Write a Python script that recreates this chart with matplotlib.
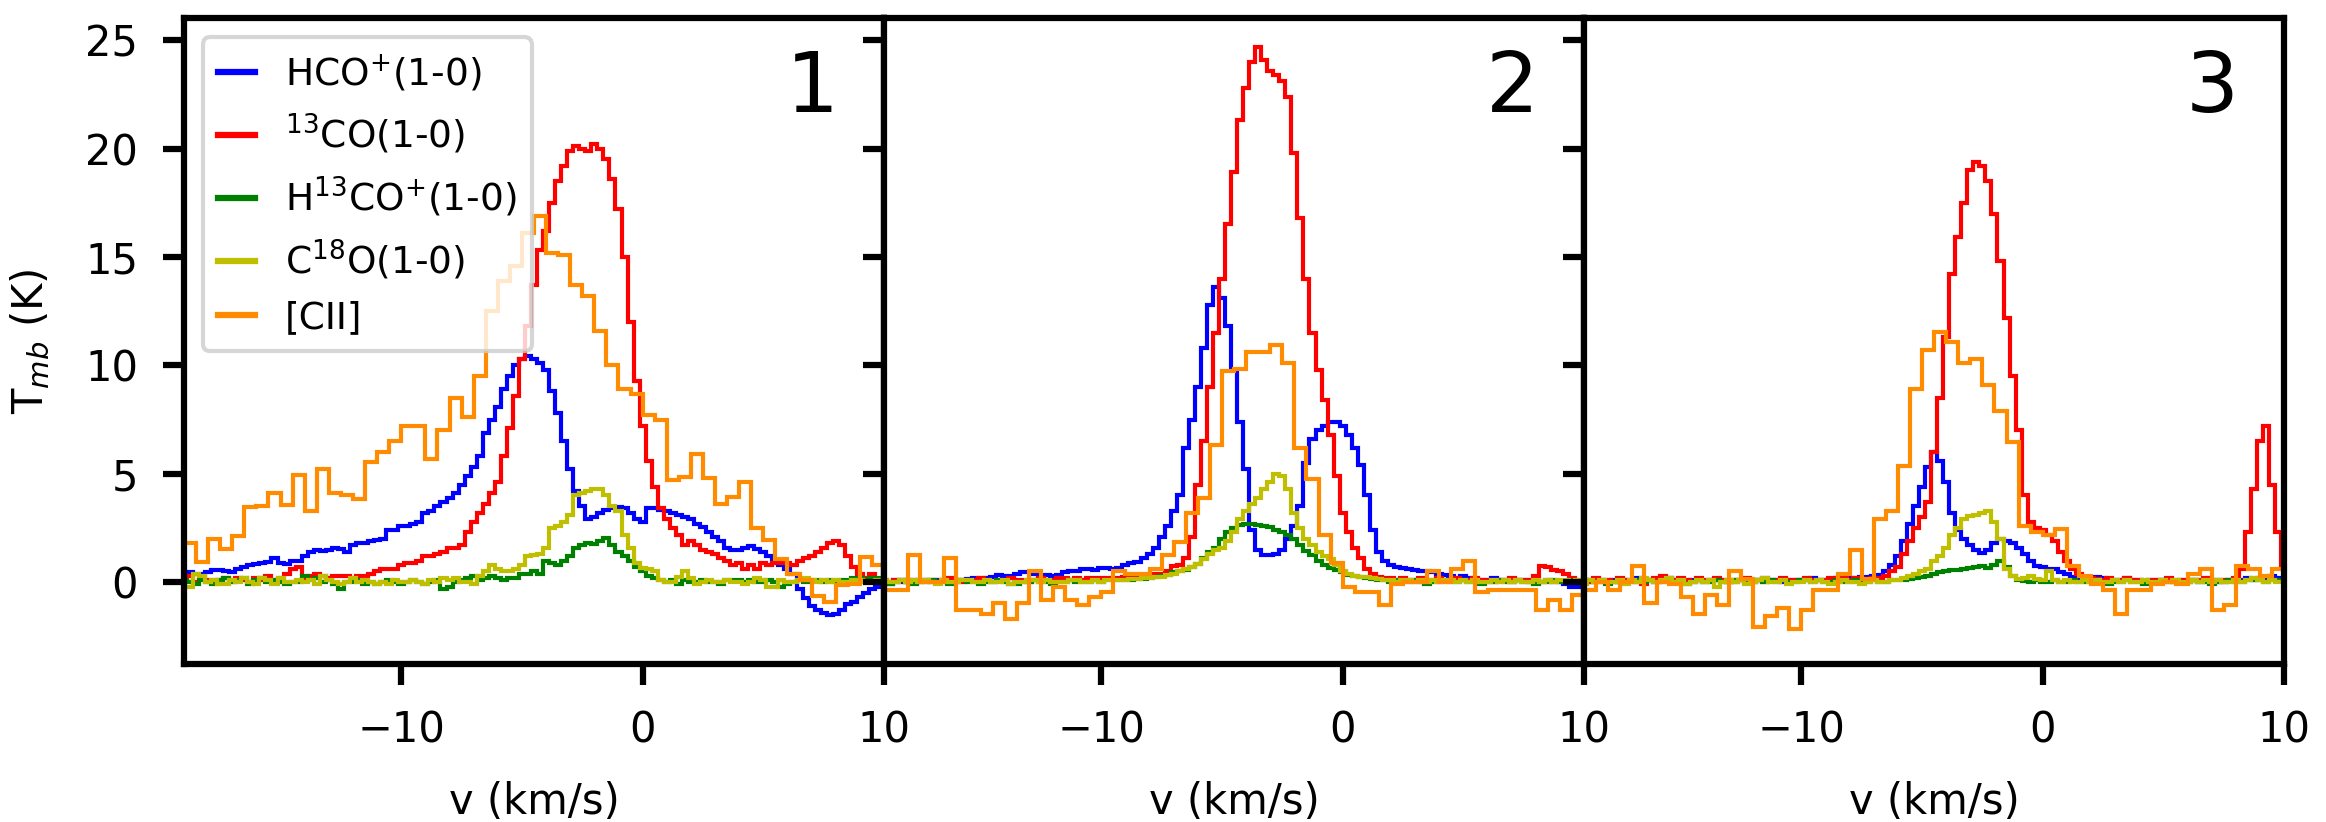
import numpy as np
import matplotlib
matplotlib.use("Agg")
from matplotlib import pyplot as plt


# Fine channels: centres from -19 to 10 km/s, 0.25 km/s apart (one row = 1 km/s)
FINE_START = -19.0
FINE_WIDTH = 0.25
# [CII] channels: centres from -18.75 to 9.75 km/s, 0.5 km/s apart
CII_START = -18.75
CII_WIDTH = 0.5

# Position 1
hco_1 = [
    0.4, 0.45, 0.4, 0.4,  0.45, 0.55, 0.55, 0.5,  0.45, 0.6, 0.7, 0.8,
    0.85, 0.9, 0.95, 1.1,  0.9, 0.85, 1.0, 1.0,  1.2, 1.4, 1.5, 1.45,
    1.5, 1.6, 1.55, 1.4,  1.7, 1.8, 1.8, 1.9,  1.95, 2.0, 2.4, 2.4,
    2.6, 2.6, 2.7, 2.8,  3.2, 3.3, 3.5, 3.7,  3.9, 4.1, 4.5, 4.9,
    5.3, 5.8, 6.9, 7.5,  8.1, 8.9, 9.5, 10.0,  10.3, 10.45, 10.3, 10.1,
    9.8, 8.8, 7.8, 6.5,  5.2, 4.2, 3.5, 2.9,  3.0, 3.2, 3.35, 3.4,
    3.45, 3.4, 3.2, 2.9,  2.8, 3.4, 3.4, 3.35,  3.3, 3.2, 3.1, 3.0,
    2.9, 2.7, 2.55, 2.3,  2.1, 1.9, 1.6, 1.5,  1.5, 1.6, 1.65, 1.55,
    1.4, 1.2, 1.0, 0.8,  0.6, 0.4, -0.3, -0.75,  -1.1, -1.3, -1.4, -1.5,
    -1.45, -1.3, -1.0, -0.9,  -0.7, -0.5, -0.3, -0.2,  -0.1]
co13_1 = [
    0.1, 0.3, 0.0, 0.2,  0.1, 0.0, 0.1, 0.2,  0.0, 0.2, 0.1, 0.0,
    0.2, 0.1, 0.3, 0.1,  0.2, 0.4, 0.6, 0.7,  0.1, 0.3, 0.4, 0.3,
    0.2, 0.3, 0.3, 0.3,  0.2, 0.3, 0.3, 0.4,  0.5, 0.6, 0.6, 0.6,
    0.8, 0.9, 0.9, 1.0,  1.2, 1.2, 1.3, 1.4,  1.6, 1.6, 1.7, 2.3,
    2.8, 3.2, 3.6, 4.1,  4.6, 5.8, 7.1, 8.6,  10.3, 11.8, 13.7, 15.3,
    16.2, 17.5, 18.5, 19.2,  19.9, 20.1, 20.0, 19.9,  20.2, 20.0, 19.5, 18.6,
    17.2, 15.0, 12.0, 9.3,  7.2, 5.6, 4.4, 3.4,  2.9, 2.5, 2.2, 1.7,
    1.9, 1.7, 1.5, 1.4,  1.3, 1.1, 1.0, 0.8,  0.9, 0.6, 0.8, 0.6,
    0.9, 0.8, 0.9, 0.9,  0.9, 0.8, 1.0, 1.1,  1.2, 1.4, 1.6, 1.8,
    1.9, 1.7, 1.2, 0.7,  0.4, 0.2, 0.4, 0.1,  0.1]
h13co_1 = [
    0.1, 0.0, -0.1, 0.1,  0.0, -0.1, 0.1, 0.2,  0.0, 0.1, 0.2, -0.1,
    0.1, 0.2, 0.0, 0.1,  0.0, -0.1, 0.0, 0.0,  0.3, 0.1, 0.2, 0.0,
    0.1, -0.1, -0.3, 0.0,  0.0, 0.1, -0.1, 0.0,  -0.1, 0.0, 0.1, 0.0,
    -0.1, 0.0, 0.1, 0.0,  -0.1, 0.0, 0.1, -0.3,  -0.2, 0.0, 0.1, 0.2,
    0.3, 0.1, 0.2, 0.3,  0.2, 0.1, 0.2, 0.2,  0.4, 0.4, 0.5, 0.4,
    1.0, 0.9, 0.8, 1.0,  1.2, 1.6, 1.7, 1.8,  1.75, 1.9, 2.05, 1.7,
    1.4, 1.2, 1.0, 0.7,  0.5, 0.3, 0.2, 0.1,  0.0, 0.1, -0.1, 0.1,
    0.0, 0.0, 0.1, 0.0,  0.0, -0.1, 0.1, 0.1,  0.1, 0.0, 0.1, 0.0,
    0.0, 0.1, 0.0, -0.2,  -0.1, 0.0, 0.1, 0.0,  0.1, 0.1, 0.0, 0.1,
    0.0, 0.1, 0.1, 0.2,  0.2, 0.1, 0.2, 0.2,  0.1]
c18o_1 = [
    -0.2, -0.2, 0.4, 0.3,  0.0, 0.1, -0.1, -0.1,  0.1, 0.0, 0.2, 0.0,
    -0.1, 0.2, 0.1, -0.1,  0.2, 0.0, 0.0, 0.1,  0.0, 0.1, -0.1, 0.3,
    0.1, 0.0, -0.1, 0.0,  0.2, 0.0, 0.1, 0.0,  -0.1, 0.0, -0.1, 0.1,
    0.0, 0.0, 0.1, 0.0,  -0.1, 0.1, 0.0, 0.2,  0.1, 0.2, 0.0, 0.0,
    -0.1, 0.3, 0.5, 0.8,  0.6, 0.5, 0.5, 0.6,  0.8, 1.2, 1.25, 1.3,
    1.6, 2.5, 2.6, 2.8,  3.1, 4.0, 4.1, 4.2,  4.3, 4.3, 4.0, 3.5,
    3.3, 2.2, 1.6, 0.9,  0.65, 0.6, 0.5, 0.1,  0.0, 0.0, 0.25, 0.5,
    0.2, -0.1, 0.0, 0.1,  0.0, 0.0, 0.1, 0.0,  0.0, -0.1, 0.0, 0.2,
    0.1, -0.2, -0.2, 0.1,  0.0, 0.0, 0.1, 0.2,  0.1, 0.0, 0.1, 0.0,
    0.1, 0.0, 0.0, 0.1,  0.1, 0.0, 0.0, 0.1,  0.0]
cii_1 = [
    1.8, 0.95,  2.0, 1.55,  2.15, 3.45,  3.5, 4.1,  3.55, 4.95,  3.3, 5.2,
    4.1, 4.0,  3.85, 5.55,  6.0, 6.5,  7.2, 7.2,  5.7, 7.0,  8.5, 7.6,
    9.5, 12.5,  13.9, 14.6,  16.1, 16.9,  15.2, 15.1,  13.7, 13.2,  11.6, 10.0,
    8.9, 8.7,  7.7, 7.5,  4.7, 4.85,  5.9, 4.8,  3.6, 3.95,  4.6, 2.5,
    1.95, 1.05,  0.4, 0.1,  -0.65, -0.9,  -0.15, -0.1,  1.15, 0.8]

# Position 2
hco_2 = [
    0.0, -0.1, 0.1, 0.0,  0.1, 0.0, 0.1, 0.1,  0.0, 0.1, 0.1, 0.1,
    0.1, 0.1, 0.15, 0.2,  0.15, 0.2, 0.25, 0.35,  0.3, 0.3, 0.4, 0.45,
    0.45, 0.4, 0.35, 0.35,  0.3, 0.35, 0.45, 0.5,  0.5, 0.6, 0.6, 0.55,
    0.65, 0.65, 0.6, 0.65,  0.8, 0.9, 0.95, 1.1,  1.3, 1.6, 2.1, 2.6,
    3.3, 4.0, 6.2, 7.5,  9.0, 10.8, 12.8, 13.6,  13.1, 11.8, 9.8, 7.4,
    5.2, 2.4, 1.5, 1.25,  1.25, 1.3, 1.5, 2.0,  2.6, 3.5, 5.5, 6.6,
    7.0, 7.2, 7.4, 7.4,  7.2, 6.8, 6.2, 5.4,  4.0, 2.4, 1.4, 1.0,
    0.8, 0.7, 0.65, 0.6,  0.55, 0.5, 0.5, 0.45,  0.4, 0.35, 0.3, 0.2,
    0.3, 0.2, 0.15, 0.1,  0.1, 0.2, 0.1, 0.1,  0.0, 0.1, 0.1, 0.0,
    0.1, 0.0, 0.1, 0.0,  0.0, -0.1, -0.2, -0.2,  -0.1]
co13_2 = [
    0.1, 0.0, 0.1, 0.1,  0.0, 0.1, 0.0, 0.1,  0.1, 0.0, 0.1, 0.2,
    0.1, 0.0, 0.1, 0.1,  0.2, 0.1, 0.0, 0.1,  0.1, 0.2, 0.1, 0.1,
    0.0, 0.1, 0.2, 0.1,  0.1, 0.2, 0.2, 0.1,  0.2, 0.1, 0.2, 0.2,
    0.2, 0.2, 0.2, 0.2,  0.25, 0.25, 0.25, 0.3,  0.3, 0.4, 0.4, 0.5,
    0.75, 0.8, 1.1, 2.1,  4.5, 6.5, 9.0, 11.5,  14.0, 16.5, 18.9, 21.3,
    22.8, 24.0, 24.7, 24.1,  23.6, 23.4, 23.1, 22.4,  19.8, 16.8, 14.0, 11.5,
    9.8, 8.4, 6.8, 4.9,  3.2, 2.3, 1.6, 1.1,  0.6, 0.4, 0.25, 0.2,
    0.2, 0.1, 0.2, 0.1,  0.1, 0.2, 0.1, 0.1,  0.2, 0.1, 0.1, 0.2,
    0.1, 0.1, 0.2, 0.1,  0.1, 0.0, 0.1, 0.1,  0.2, 0.1, 0.1, 0.1,
    0.3, 0.75, 0.7, 0.55,  0.5, 0.4, 0.2, 0.1,  0.1]
h13co_2 = [
    0.0, -0.1, 0.0, 0.1,  0.0, -0.1, 0.0, 0.0,  0.1, 0.0, 0.0, -0.1,
    0.0, 0.1, 0.0, 0.0,  -0.1, 0.0, 0.0, 0.1,  0.0, -0.1, -0.1, 0.0,
    0.0, 0.1, 0.0, 0.0,  -0.1, 0.0, 0.0, 0.1,  0.0, 0.0, 0.0, 0.1,
    0.0, 0.1, 0.1, 0.1,  0.1, 0.1, 0.15, 0.15,  0.2, 0.25, 0.3, 0.35,
    0.45, 0.5, 0.55, 0.7,  0.85, 1.1, 1.4, 1.6,  2.0, 2.3, 2.5, 2.65,
    2.7, 2.7, 2.65, 2.6,  2.55, 2.4, 2.3, 2.2,  2.0, 1.7, 1.45, 1.25,
    1.0, 0.8, 0.65, 0.55,  0.45, 0.35, 0.3, 0.25,  0.2, 0.15, 0.1, 0.1,
    0.0, 0.1, 0.0, 0.0,  0.1, 0.0, -0.1, 0.0,  0.0, 0.1, 0.0, 0.0,
    0.1, 0.0, 0.0, -0.1,  0.0, 0.0, 0.1, 0.0,  0.0, 0.1, 0.0, 0.0,
    -0.1, 0.0, 0.0, 0.1,  0.0, 0.0, 0.1, 0.0,  0.0]
c18o_2 = [
    0.1, 0.0, 0.0, 0.1,  0.0, 0.1, 0.0, 0.1,  0.0, -0.1, 0.1, 0.0,
    0.0, 0.1, 0.1, 0.0,  0.0, 0.1, 0.0, 0.0,  0.1, -0.1, 0.0, 0.0,
    0.1, 0.1, 0.0, 0.1,  0.0, 0.0, 0.0, 0.1,  0.1, 0.0, 0.0, 0.1,
    0.0, 0.1, 0.1, 0.1,  0.1, 0.15, 0.15, 0.2,  0.2, 0.25, 0.25, 0.35,
    0.4, 0.5, 0.6, 0.7,  0.85, 1.05, 1.3, 1.5,  1.6, 1.9, 2.3, 2.9,
    3.3, 3.6, 3.9, 4.3,  4.6, 5.0, 4.9, 4.3,  3.2, 2.5, 2.0, 1.7,
    1.4, 1.2, 1.05, 0.8,  0.5, 0.4, 0.3, 0.25,  0.25, 0.2, 0.15, 0.1,
    0.1, 0.0, 0.1, 0.1,  0.0, 0.1, 0.0, 0.1,  0.0, 0.1, 0.1, 0.0,
    0.1, 0.0, 0.1, 0.0,  0.0, 0.1, 0.0, 0.1,  0.0, 0.1, 0.0, 0.0,
    0.1, 0.0, 0.1, 0.0,  0.1, 0.1, 0.0, 0.1,  0.1]
cii_2 = [
    -0.35, -0.35,  1.25, 0.0,  0.0, 1.1,  -1.3, -1.3,  -1.45, -0.95,  -1.7, -0.95,
    0.5, -0.8,  -0.2, -0.8,  -1.05, -0.7,  -0.45, 0.5,  0.4, 0.4,  0.6, 1.25,
    1.85, 3.2,  3.9, 6.35,  9.75, 9.85,  10.6, 10.6,  10.95, 10.1,  6.2, 4.75,
    2.2, 0.9,  -0.2, -0.45,  -0.45, -1.05,  -0.1, 0.0,  0.0, 0.5,  0.0, 0.63,
    1.0, -0.45,  -0.35, -0.35,  -0.35, -0.35,  -1.3, -0.8,  -1.3, -0.6]

# Position 3
hco_3 = [
    0.1, 0.0, 0.1, 0.1,  0.0, 0.1, 0.0, 0.1,  0.1, 0.2, 0.1, 0.1,
    0.0, 0.1, 0.2, 0.1,  0.1, 0.0, 0.1, 0.1,  0.0, 0.1, 0.1, 0.1,
    0.0, 0.0, 0.1, 0.1,  0.0, 0.1, 0.2, 0.1,  0.1, 0.0, 0.1, 0.1,
    0.1, 0.1, 0.2, 0.1,  0.1, 0.1, 0.2, 0.2,  0.2, 0.2, 0.25, 0.25,
    0.3, 0.35, 0.5, 0.8,  1.2, 1.9, 2.7, 3.5,  4.4, 5.3, 6.0, 5.6,
    4.6, 3.2, 2.4, 2.0,  1.7, 1.5, 1.35, 1.5,  1.8, 2.0, 1.9, 1.8,
    1.6, 1.3, 1.0, 0.75,  0.7, 0.6, 0.6, 0.45,  0.4, 0.25, 0.15, 0.2,
    0.2, 0.25, 0.2, 0.1,  0.1, 0.1, 0.2, 0.1,  0.1, 0.0, 0.1, 0.1,
    0.1, 0.1, 0.0, 0.1,  0.1, 0.1, 0.0, 0.1,  0.1, 0.1, 0.0, 0.1,
    0.1, 0.1, 0.2, 0.1,  0.2, 0.2, 0.3, 0.2,  0.2]
co13_3 = [
    0.1, 0.0, 0.2, 0.1,  0.1, 0.0, 0.2, 0.1,  0.1, 0.0, -0.1, 0.1,
    0.2, 0.3, 0.2, 0.1,  0.2, 0.1, 0.0, 0.2,  0.1, 0.1, 0.2, 0.1,
    0.0, 0.1, 0.1, 0.2,  0.1, 0.1, 0.0, 0.1,  0.1, 0.2, 0.1, 0.1,
    0.1, 0.2, 0.1, 0.1,  0.1, 0.2, 0.1, 0.2,  0.1, 0.2, 0.15, 0.15,
    0.2, 0.2, 0.3, 0.5,  0.7, 1.3, 1.9, 2.5,  3.0, 3.7, 6.0, 8.5,
    11.3, 14.2, 15.9, 17.5,  19.0, 19.4, 19.2, 18.5,  17.0, 14.8, 12.2, 9.5,
    7.0, 4.0, 2.8, 2.5,  2.4, 2.2, 1.9, 1.4,  1.0, 0.6, 0.4, 0.25,
    0.2, 0.15, 0.1, 0.2,  0.1, 0.1, 0.2, 0.1,  0.1, 0.0, 0.1, 0.1,
    0.1, 0.2, 0.1, 0.1,  0.0, 0.1, 0.1, 0.2,  0.1, 0.0, 0.1, 0.1,
    0.2, 0.6, 2.3, 4.3,  6.5, 7.2, 4.5, 2.3,  0.8]
h13co_3 = [
    0.0, 0.1, 0.0, 0.0,  -0.1, 0.0, 0.1, 0.0,  0.0, 0.1, 0.0, 0.1,
    0.0, 0.0, 0.1, 0.0,  0.0, -0.1, 0.0, 0.1,  0.0, 0.0, 0.1, 0.0,
    0.0, 0.1, 0.1, 0.0,  0.0, 0.1, 0.0, 0.1,  0.0, 0.1, 0.0, 0.0,
    0.1, 0.1, 0.0, 0.1,  0.0, 0.0, 0.1, 0.0,  0.0, 0.1, 0.0, 0.0,
    0.1, 0.0, 0.0, 0.1,  0.1, 0.1, 0.15, 0.2,  0.25, 0.3, 0.4, 0.45,
    0.5, 0.55, 0.55, 0.6,  0.65, 0.7, 0.75, 0.65,  0.8, 1.0, 0.7, 0.3,
    0.1, 0.05, 0.0, 0.1,  0.0, 0.0, 0.1, 0.0,  0.0, 0.1, 0.0, 0.0,
    0.1, 0.0, 0.0, -0.1,  0.0, 0.0, 0.1, 0.0,  0.0, -0.1, 0.0, 0.0,
    0.1, 0.0, 0.0, 0.0,  0.0, 0.1, 0.0, 0.0,  -0.1, 0.0, 0.0, 0.1,
    0.0, 0.0, 0.1, 0.1,  0.1, 0.0, 0.1, 0.1,  0.1]
c18o_3 = [
    -0.1, 0.1, 0.0, 0.1,  0.0, 0.0, 0.1, -0.1,  0.1, 0.0, 0.2, 0.1,
    0.0, 0.1, 0.2, 0.0,  0.1, -0.1, 0.0, 0.1,  0.0, 0.1, -0.2, 0.0,
    0.1, 0.0, 0.1, -0.1,  0.0, 0.1, 0.2, 0.0,  0.0, 0.1, -0.1, 0.0,
    0.0, 0.1, 0.0, 0.1,  0.0, -0.1, 0.0, 0.1,  0.0, 0.0, -0.1, 0.0,
    0.1, 0.0, 0.0, 0.1,  0.1, 0.2, 0.3, 0.4,  0.5, 0.6, 1.0, 1.2,
    1.6, 2.2, 2.5, 2.9,  3.05, 3.1, 3.2, 3.3,  2.8, 2.0, 0.6, 0.3,
    0.15, 0.2, 0.3, 0.15,  0.1, 0.5, 0.1, 0.0,  0.1, 0.0, 0.0, 0.1,
    0.0, 0.1, 0.0, 0.0,  0.1, 0.0, 0.1, 0.0,  0.0, 0.1, 0.0, 0.0,
    0.1, 0.0, 0.1, 0.0,  0.0, 0.1, 0.0, 0.1,  0.0, 0.1, 0.0, 0.0,
    0.1, 0.0, 0.1, 0.2,  0.1, 0.0, 0.1, 0.0,  0.0]
cii_3 = [
    -0.35, 0.0,  -0.35, 0.0,  0.75, -0.95,  0.0, -0.1,  -0.7, -1.45,  -0.6, -1.05,
    0.5, 0.15,  -2.05, -1.55,  -1.2, -2.15,  -1.3, -0.35,  -0.35, 0.4,  1.5, 0.15,
    2.9, 3.3,  5.35, 8.9,  10.7, 11.55,  11.1, 10.1,  10.3, 9.1,  7.9, 6.45,
    2.6, 2.3,  2.2, 2.45,  0.75, 0.27,  -0.1, -0.35,  -1.45, -0.35,  -0.35, -0.1,
    0.0, -0.1,  0.4, 0.6,  -1.3, -1.05,  0.75, 0.6,  0.27, 0.6]

LABELS = ["HCO$^{+}$(1-0)", "$^{13}$CO(1-0)", "H$^{13}$CO$^{+}$(1-0)",
          "C$^{18}$O(1-0)", "[CII]"]
COLORS = ["b", "r", "g", "y", "darkorange"]
PANEL_NAMES = ["1", "2", "3"]

panels = [
    [hco_1, co13_1, h13co_1, c18o_1, cii_1],
    [hco_2, co13_2, h13co_2, c18o_2, cii_2],
    [hco_3, co13_3, h13co_3, c18o_3, cii_3],
]


# Helper: channel edges from first centre and width
def channelEdges(start, width, n):
    return start - width / 2 + width * np.arange(n + 1)


fig, axes = plt.subplots(1, 3, sharey=True, figsize=(2326 / 300, 822 / 300), dpi=300)
fig.subplots_adjust(left=0.0791, right=0.982, top=0.9775, bottom=0.1928, wspace=0)

for ax, spectra, name in zip(axes, panels, PANEL_NAMES):
    for k, (vals, col, lab) in enumerate(zip(spectra, COLORS, LABELS)):
        if k == 4:
            edges = channelEdges(CII_START, CII_WIDTH, len(vals))
        else:
            edges = channelEdges(FINE_START, FINE_WIDTH, len(vals))
        ax.stairs(vals, edges, baseline=None, color=col, lw=1.0, label=lab)
    ax.set_xlim(-19, 10)
    ax.set_ylim(-3.75, 26)
    ax.set_xticks([-10, 0, 10])
    ax.set_yticks([0, 5, 10, 15, 20, 25])
    ax.tick_params(direction="out", length=5, width=1.5, labelsize=10, pad=6)
    for sp in ax.spines.values():
        sp.set_linewidth(1.5)
    ax.set_xlabel("v (km/s)", fontsize=10, labelpad=7)
    ax.text(0.935, 0.955, name, transform=ax.transAxes, ha="right", va="top", fontsize=20)

axes[0].set_ylabel("T$_{mb}$ (K)", fontsize=10, labelpad=8)
leg = axes[0].legend(loc="upper left", fontsize=9, handlelength=1.0)
for h in leg.get_lines():
    h.set_linewidth(1.5)

fig.savefig("out.png", dpi=300)
